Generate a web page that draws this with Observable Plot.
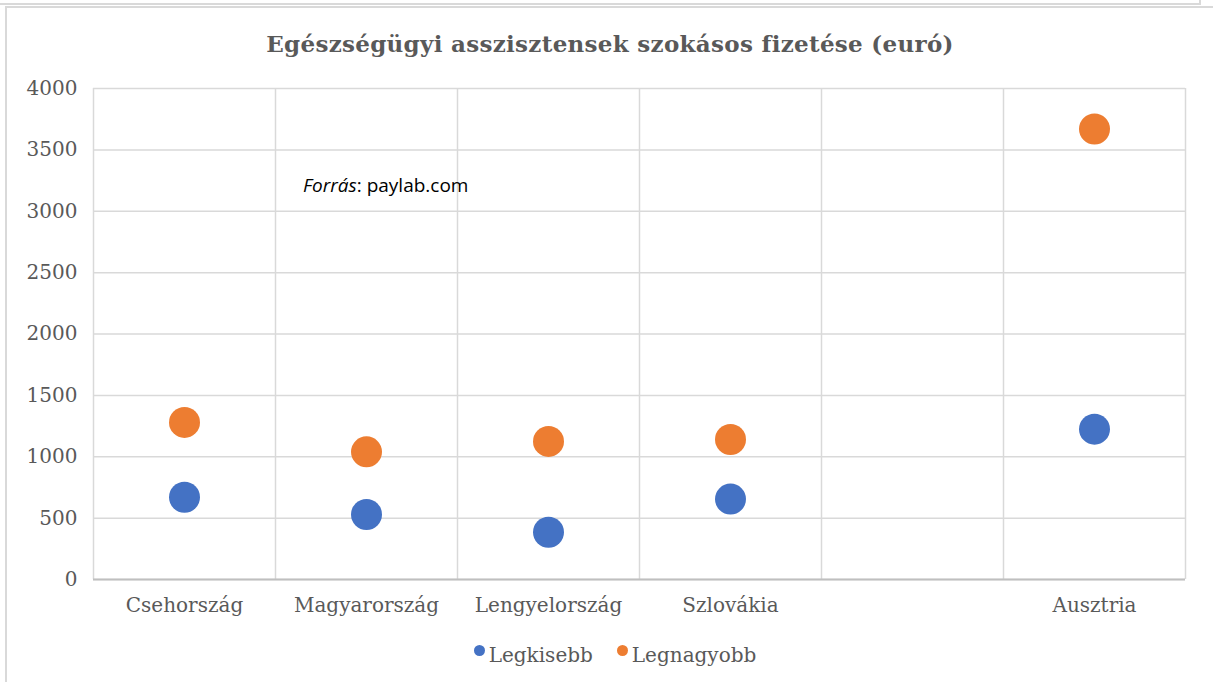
<!DOCTYPE html>
<html>
<head>
<meta charset="utf-8">
<script src="https://cdn.jsdelivr.net/npm/d3@7"></script>
<script src="https://cdn.jsdelivr.net/npm/@observablehq/plot@0.6"></script>
<style>
  html, body { margin: 0; padding: 0; background: #fff; }
  #wrap { position: relative; width: 1213px; height: 682px; overflow: hidden; background: #fff; }
  .line { position: absolute; background: #d9d9d9; }
  #title { position: absolute; left: 0; width: 1220px; top: 32px; line-height: 1; text-align: center;
    font-family: "DejaVu Serif", serif; font-weight: bold; font-size: 23px; letter-spacing: 0.3px; color: #595959; white-space: nowrap; }
  #source { position: absolute; left: 303px; top: 172px; font-family: "Open Sans", sans-serif; font-size: 19px; color: #000; white-space: nowrap; }
  #legend { position: absolute; top: 643px; left: 0; width: 1230px; display: flex; justify-content: center; gap: 24px;
    font-family: "DejaVu Serif", serif; font-size: 20px; color: #595959; }
  #legend span.item { display: inline-flex; align-items: center; }
  #legend .dot { display: inline-block; width: 11px; height: 11px; border-radius: 50%; margin-right: 4px; position: relative; top: -5px; }
  #chart { position: absolute; left: 0; top: 0; }
</style>
</head>
<body>
<div id="wrap">
  <div class="line" style="left:0;top:3px;width:1201px;height:2px;"></div>
  <div class="line" style="left:1199px;top:0;width:2px;height:4px;"></div>
  <div class="line" style="left:5px;top:6px;width:1208px;height:2px;"></div>
  <div class="line" style="left:5px;top:6px;width:2px;height:676px;"></div>
  <div id="chart"></div>
  <div id="title">Egészségügyi asszisztensek szokásos fizetése (euró)</div>
  <div id="source"><i>Forrás</i>: paylab.com</div>
  <div id="legend"></div>
</div>
<script>
const countries = ["Csehország", "Magyarország", "Lengyelország", "Szlovákia", "Ausztria"];
const xValues = [1, 2, 3, 4, 6];
const legkisebb = [670, 530, 385, 655, 1225];
const legnagyobb = [1280, 1040, 1125, 1140, 3670];
const seriesNames = ["Legkisebb", "Legnagyobb"];
const seriesColors = ["#4472c4", "#ed7d31"];
const yTicks = [0, 500, 1000, 1500, 2000, 2500, 3000, 3500, 4000];
const xGrid = [0.5, 1.5, 2.5, 3.5, 4.5, 5.5, 6.5];

const points = [];
countries.forEach((c, i) => {
  points.push({country: c, x: xValues[i], value: legkisebb[i], series: seriesNames[0]});
  points.push({country: c, x: xValues[i], value: legnagyobb[i], series: seriesNames[1]});
});

const plot = Plot.plot({
  width: 1213,
  height: 630,
  marginTop: 88,
  marginBottom: 51,
  marginLeft: 93,
  marginRight: 28,
  style: { fontFamily: "DejaVu Serif, serif", fontSize: "20px", color: "#595959", background: "transparent" },
  x: { domain: [0.5, 6.5] },
  y: { domain: [0, 4000] },
  color: { domain: seriesNames, range: seriesColors },
  marks: [
    Plot.ruleY(yTicks, { stroke: "#d9d9d9", strokeWidth: 1.5 }),
    Plot.ruleX(xGrid, { stroke: "#d9d9d9", strokeWidth: 1.5 }),
    Plot.ruleY([0], { stroke: "#bfbfbf", strokeWidth: 2 }),
    Plot.axisY({ ticks: yTicks, tickSize: 0, tickPadding: 16, label: null, fill: "#595959", tickFormat: d3.format("d") }),
    Plot.axisX({ ticks: xValues, tickSize: 0, tickPadding: 18, label: null, fill: "#595959",
      tickFormat: (d) => countries[xValues.indexOf(d)] }),
    Plot.dot(points, { x: "x", y: "value", fill: "series", r: 15.5, stroke: null })
  ]
});
document.getElementById("chart").appendChild(plot);

const legend = document.getElementById("legend");
seriesNames.forEach((name, i) => {
  const item = document.createElement("span");
  item.className = "item";
  const dot = document.createElement("span");
  dot.className = "dot";
  dot.style.background = seriesColors[i];
  item.appendChild(dot);
  item.appendChild(document.createTextNode(name));
  legend.appendChild(item);
});
</script>
</body>
</html>
